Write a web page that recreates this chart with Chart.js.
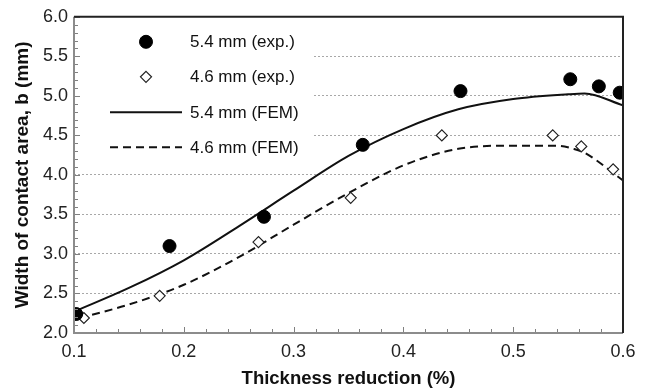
<!DOCTYPE html>
<html>
<head>
<meta charset="utf-8">
<script src="https://cdn.jsdelivr.net/npm/chart.js@4.4.1/dist/chart.umd.min.js"></script>
<style>
  body { margin: 0; background: #fff; }
  canvas { display: block; }
</style>
</head>
<body>
<canvas id="chart" width="648" height="391"></canvas>
<script>
// measured values (thickness reduction, contact width)
const exp54X = [0.102, 0.187, 0.273, 0.363, 0.452, 0.552, 0.578, 0.597]
const exp54Y = [2.24, 3.10, 3.47, 4.38, 5.06, 5.21, 5.12, 5.04]
const exp46X = [0.109, 0.178, 0.268, 0.352, 0.435, 0.536, 0.562, 0.591]
const exp46Y = [2.19, 2.47, 3.15, 3.71, 4.50, 4.50, 4.36, 4.07]
// FEM curves
const fem54X = [0.1, 0.15, 0.2, 0.25, 0.3, 0.35, 0.4, 0.45, 0.5, 0.55, 0.565, 0.6]
const fem54Y = [2.27, 2.57, 2.92, 3.35, 3.80, 4.24, 4.58, 4.83, 4.96, 5.02, 5.03, 4.88]
const fem46X = [0.105, 0.15, 0.2, 0.25, 0.3, 0.35, 0.4, 0.45, 0.5, 0.54, 0.555, 0.565, 0.6]
const fem46Y = [2.19, 2.36, 2.61, 2.96, 3.37, 3.77, 4.12, 4.33, 4.37, 4.37, 4.33, 4.28, 3.93]

const seriesLabels = ['5.4 mm (exp.)', '4.6 mm (exp.)', '5.4 mm (FEM)', '4.6 mm (FEM)']
const xTitle = 'Thickness reduction (%)'
const yTitle = 'Width of contact area, b (mm)'

const FONT = "'Liberation Sans', Arial, sans-serif"
const pts = (xs, ys) => xs.map((x, i) => ({ x: x, y: ys[i] }))
const isMult = (v, step) => Math.abs(v / step - Math.round(v / step)) < 1e-6

// legend box drawn inside the plot, over the grid
const insideLegend = {
  id: 'insideLegend',
  beforeDatasetsDraw(chart) {
    const { ctx, chartArea: a } = chart
    ctx.save()
    ctx.fillStyle = '#fff'
    ctx.fillRect(a.left + 1, a.top + 1, 313 - a.left, 160 - a.top)
    const rows = [25, 60, 95.5, 130.5]
    chart.data.datasets.forEach((ds, i) => {
      const y = a.top + rows[i]
      const cx = a.left + 72
      if (ds.showLine) {
        ctx.strokeStyle = ds.borderColor
        ctx.lineWidth = ds.borderWidth
        ctx.setLineDash(ds.borderDash || [])
        ctx.beginPath()
        ctx.moveTo(a.left + 36, y)
        ctx.lineTo(a.left + 108, y)
        ctx.stroke()
        ctx.setLineDash([])
      } else {
        ctx.fillStyle = ds.backgroundColor
        ctx.strokeStyle = ds.borderColor
        ctx.lineWidth = ds.borderWidth
        ctx.beginPath()
        if (ds.pointStyle === 'rectRot') {
          const r = ds.pointRadius
          ctx.moveTo(cx, y - r)
          ctx.lineTo(cx + r, y)
          ctx.lineTo(cx, y + r)
          ctx.lineTo(cx - r, y)
          ctx.closePath()
        } else {
          ctx.arc(cx, y, ds.pointRadius, 0, Math.PI * 2)
        }
        ctx.fill()
        ctx.stroke()
      }
      ctx.fillStyle = '#111'
      ctx.font = '17px ' + FONT
      ctx.textBaseline = 'middle'
      ctx.textAlign = 'left'
      ctx.fillText(ds.label, a.left + 116, y + 1)
    })
    ctx.restore()
  },
  afterDatasetsDraw(chart) {
    const { ctx, chartArea: a, scales } = chart
    ctx.save()
    // inner tick marks
    ctx.strokeStyle = '#808080'
    ctx.lineWidth = 1
    scales.y.ticks.forEach(t => {
      const y = Math.round(scales.y.getPixelForValue(t.value)) + 0.5
      const len = isMult(t.value, 0.5) ? 6 : 4
      ctx.beginPath()
      ctx.moveTo(a.left, y)
      ctx.lineTo(a.left + len, y)
      ctx.stroke()
    })
    scales.x.ticks.forEach(t => {
      const x = Math.round(scales.x.getPixelForValue(t.value)) + 0.5
      const len = isMult(t.value, 0.1) ? 6 : 4
      ctx.beginPath()
      ctx.moveTo(x, a.bottom)
      ctx.lineTo(x, a.bottom - len)
      ctx.stroke()
    })
    // frame: grey axes left/bottom, dark top/right
    ctx.lineWidth = 2
    ctx.strokeStyle = '#8c8c8c'
    ctx.beginPath()
    ctx.moveTo(a.left, a.top)
    ctx.lineTo(a.left, a.bottom)
    ctx.lineTo(a.right, a.bottom)
    ctx.stroke()
    ctx.strokeStyle = '#222'
    ctx.beginPath()
    ctx.moveTo(a.left, a.top)
    ctx.lineTo(a.right, a.top)
    ctx.lineTo(a.right, a.bottom)
    ctx.stroke()
    ctx.restore()
  },
}

new Chart(document.getElementById('chart'), {
  type: 'scatter',
  data: {
    datasets: [
      {
        label: seriesLabels[0],
        data: pts(exp54X, exp54Y),
        pointStyle: 'circle',
        pointRadius: 6.5,
        backgroundColor: '#000',
        borderColor: '#000',
        borderWidth: 1,
      },
      {
        label: seriesLabels[1],
        data: pts(exp46X, exp46Y),
        pointStyle: 'rectRot',
        pointRadius: 5.5,
        backgroundColor: '#fff',
        borderColor: '#222',
        borderWidth: 1.2,
      },
      {
        label: seriesLabels[2],
        data: pts(fem54X, fem54Y),
        showLine: true,
        pointRadius: 0,
        borderColor: '#111',
        borderWidth: 2,
        cubicInterpolationMode: 'monotone',
      },
      {
        label: seriesLabels[3],
        data: pts(fem46X, fem46Y),
        showLine: true,
        pointRadius: 0,
        borderColor: '#111',
        borderWidth: 2,
        borderDash: [8, 5],
        cubicInterpolationMode: 'monotone',
      },
    ],
  },
  options: {
    responsive: false,
    animation: false,
    layout: { padding: { left: 0, right: 25, top: 16, bottom: 0 } },
    plugins: { legend: { display: false }, tooltip: { enabled: false } },
    scales: {
      x: {
        type: 'linear',
        min: 0.1,
        max: 0.6,
        afterFit: s => { s.height = 58 },
        grid: { display: false, drawTicks: false },
        border: { display: false },
        ticks: {
          stepSize: 0.02,
          autoSkip: false,
          maxRotation: 0,
          padding: 8,
          color: '#222',
          font: { family: FONT, size: 18 },
          callback: v => isMult(v, 0.1) ? v.toFixed(1) : '',
        },
        title: {
          display: true,
          text: xTitle,
          color: '#111',
          font: { family: FONT, size: 18.5, weight: 'bold' },
          padding: { top: 0, bottom: 1 },
        },
      },
      y: {
        min: 2,
        max: 6,
        afterFit: s => { s.width = 74 },
        grid: {
          drawTicks: false,
          lineWidth: 1,
          color: c => (isMult(c.tick.value, 0.5) && c.tick.value > 2 && c.tick.value < 6) ? '#a8a8a8' : 'rgba(0,0,0,0)',
        },
        border: { display: false, dash: [2, 2] },
        ticks: {
          stepSize: 0.1,
          autoSkip: false,
          padding: 6,
          color: '#222',
          font: { family: FONT, size: 18 },
          callback: v => isMult(v, 0.5) ? v.toFixed(1) : '',
        },
        title: {
          display: true,
          text: yTitle,
          color: '#111',
          font: { family: FONT, size: 19, weight: 'bold' },
          padding: { top: 11, bottom: 0 },
        },
      },
    },
  },
  plugins: [insideLegend],
})
</script>
</body>
</html>
